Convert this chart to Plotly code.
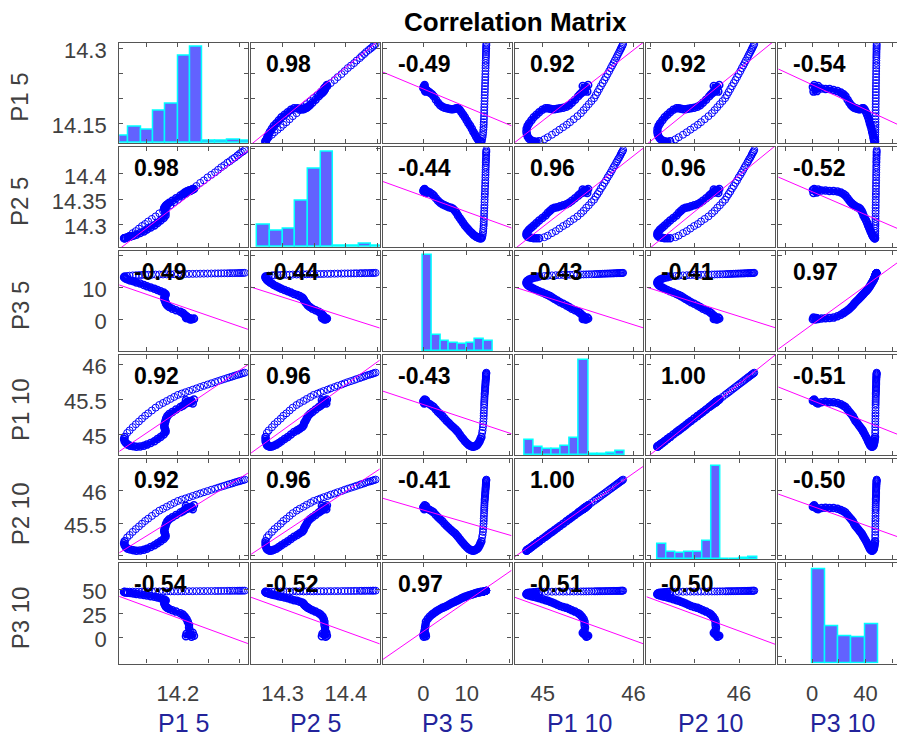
import numpy as np
import plotly.graph_objects as go

# ---------------- data ----------------
VAR_NAMES = ["P1 5", "P2 5", "P3 5", "P1 10", "P2 10", "P3 10"]

# each series: 10 points of the start cluster, 33 points of the dense path, 38 points of the sparse branch
N_DENSE = 43

P1_5 = [14.222, 14.226, 14.220, 14.214, 14.224, 14.213, 14.218, 14.219, 14.218, 14.218,
        14.216, 14.214, 14.211, 14.208, 14.204, 14.197, 14.191, 14.186, 14.183, 14.181, 14.180,
        14.179, 14.178, 14.178, 14.179, 14.180, 14.180, 14.177, 14.172, 14.167, 14.162, 14.156,
        14.150, 14.145, 14.139, 14.133, 14.128, 14.123, 14.119, 14.116, 14.114, 14.113, 14.114,
        14.118, 14.122, 14.127, 14.132, 14.137, 14.142, 14.147, 14.152, 14.158, 14.164, 14.170,
        14.176, 14.182, 14.188, 14.194, 14.200, 14.206, 14.212, 14.218, 14.224, 14.230, 14.236,
        14.242, 14.248, 14.254, 14.260, 14.265, 14.270, 14.275, 14.280, 14.284, 14.288, 14.292,
        14.296, 14.299, 14.302, 14.305, 14.308]

P2_5 = [14.368, 14.370, 14.366, 14.363, 14.369, 14.362, 14.366, 14.367, 14.367, 14.366,
        14.366, 14.365, 14.363, 14.360, 14.357, 14.352, 14.347, 14.343, 14.340, 14.338, 14.336,
        14.334, 14.333, 14.331, 14.327, 14.323, 14.318, 14.313, 14.308, 14.303, 14.298, 14.294,
        14.290, 14.286, 14.283, 14.280, 14.278, 14.276, 14.275, 14.274, 14.273, 14.273, 14.273,
        14.275, 14.278, 14.283, 14.287, 14.292, 14.297, 14.301, 14.306, 14.311, 14.316, 14.322,
        14.327, 14.333, 14.338, 14.344, 14.349, 14.355, 14.360, 14.365, 14.371, 14.376, 14.382,
        14.387, 14.393, 14.398, 14.403, 14.408, 14.413, 14.417, 14.422, 14.425, 14.429, 14.432,
        14.436, 14.439, 14.442, 14.444, 14.447]

P3_5 = [0.1, 0.3, 0.0, 0.4, 0.2, 0.6, 0.5, 0.3, 0.4, 0.5,
        0.6, 1.0, 1.5, 2.0, 2.4, 2.9, 3.4, 3.9, 4.4, 4.9, 5.4,
        5.9, 6.4, 6.85, 7.3, 7.65, 8.0, 8.4, 8.8, 9.2, 9.6, 10.0,
        10.4, 10.8, 11.2, 11.55, 11.9, 12.2, 12.5, 12.75, 13.0, 13.2, 13.4,
        13.56, 13.67, 13.76, 13.81, 13.86, 13.91, 13.94, 13.96, 13.99, 14.02, 14.04,
        14.06, 14.08, 14.11, 14.13, 14.15, 14.17, 14.2, 14.22, 14.24, 14.26, 14.29,
        14.31, 14.33, 14.35, 14.37, 14.38, 14.4, 14.42, 14.43, 14.45, 14.46, 14.47,
        14.49, 14.5, 14.51, 14.53, 14.55]

P1_10 = [45.48, 45.50, 45.47, 45.45, 45.44, 45.49, 45.46, 45.46, 45.465, 45.46,
         45.46, 45.45, 45.43, 45.41, 45.39, 45.355, 45.32, 45.29, 45.26, 45.225, 45.19,
         45.16, 45.13, 45.105, 45.08, 45.055, 45.03, 44.995, 44.96, 44.93, 44.90, 44.875,
         44.85, 44.833, 44.822, 44.82, 44.825, 44.835, 44.85, 44.872, 44.9, 44.93, 44.96,
         45.018, 45.055, 45.101, 45.143, 45.183, 45.224, 45.265, 45.30, 45.341, 45.382, 45.42,
         45.449, 45.478, 45.507, 45.536, 45.565, 45.584, 45.603, 45.621, 45.64, 45.659, 45.678,
         45.696, 45.714, 45.732, 45.749, 45.764, 45.779, 45.793, 45.808, 45.819, 45.83, 45.842,
         45.853, 45.861, 45.869, 45.877, 45.885]

P2_10 = [45.756, 45.777, 45.746, 45.725, 45.715, 45.766, 45.735, 45.735, 45.74, 45.735,
         45.735, 45.725, 45.705, 45.684, 45.664, 45.628, 45.592, 45.561, 45.53, 45.494, 45.458,
         45.427, 45.397, 45.371, 45.345, 45.32, 45.294, 45.258, 45.222, 45.191, 45.16, 45.135,
         45.109, 45.092, 45.08, 45.078, 45.083, 45.094, 45.109, 45.132, 45.16, 45.191, 45.222,
         45.282, 45.319, 45.367, 45.41, 45.451, 45.493, 45.535, 45.571, 45.613, 45.655, 45.694,
         45.724, 45.754, 45.784, 45.814, 45.843, 45.863, 45.882, 45.901, 45.92, 45.94, 45.959,
         45.978, 45.996, 46.015, 46.032, 46.048, 46.063, 46.077, 46.093, 46.104, 46.115, 46.128,
         46.139, 46.147, 46.156, 46.164, 46.172]

P3_10 = [0.5, 1.5, 2.5, 3.5, 4.5, 1.0, 3.0, 7.0, 10.0, 13.0,
         16, 19, 21.5, 23.5, 25, 26.6, 28, 29.3, 30.5, 31.5, 32.5,
         33.8, 35, 36, 37, 37.8, 38.5, 39.5, 40.5, 41.3, 42, 42.7,
         43.3, 43.9, 44.5, 45, 45.5, 45.9, 46.2, 46.5, 46.8, 47.0, 47.2,
         47.3, 47.34, 47.35, 47.4, 47.43, 47.44, 47.49, 47.52, 47.53, 47.58, 47.6,
         47.64, 47.65, 47.7, 47.73, 47.74, 47.79, 47.81, 47.85, 47.86, 47.9, 47.94,
         47.95, 48.0, 48.02, 48.06, 48.07, 48.12, 48.14, 48.18, 48.2, 48.23, 48.27,
         48.29, 48.33, 48.35, 48.39, 48.41]

# correlation coefficients printed in the panels
CORR = [[1.00, 0.98, -0.49, 0.92, 0.92, -0.54],
        [0.98, 1.00, -0.44, 0.96, 0.96, -0.52],
        [-0.49, -0.44, 1.00, -0.43, -0.41, 0.97],
        [0.92, 0.96, -0.43, 1.00, 1.00, -0.51],
        [0.92, 0.96, -0.41, 1.00, 1.00, -0.50],
        [-0.54, -0.52, 0.97, -0.51, -0.50, 1.00]]

# histograms on the diagonal (bin edges and counts)
HIST_EDGES_P1_5 = [14.10, 14.12, 14.14, 14.16, 14.18, 14.20, 14.22, 14.24, 14.26, 14.28, 14.30, 14.32]
HIST_COUNTS_P1_5 = [21, 48, 40, 98, 118, 265, 290, 7, 7, 10, 7]
HIST_EDGES_P2_5 = [14.26, 14.28, 14.30, 14.32, 14.34, 14.36, 14.38, 14.40, 14.42, 14.44, 14.46]
HIST_COUNTS_P2_5 = [68, 50, 56, 141, 236, 288, 3, 3, 11, 3]
HIST_EDGES_P3_5 = [0, 2, 4, 6, 8, 10, 12, 14, 16]
HIST_COUNTS_P3_5 = [290, 48, 30, 26, 22, 26, 38, 30]
HIST_EDGES_P1_10 = [44.8, 44.9, 45.0, 45.1, 45.2, 45.3, 45.4, 45.5, 45.6, 45.7, 45.8, 45.9]
HIST_COUNTS_P1_10 = [47, 25, 20, 20, 28, 53, 288, 4, 4, 8, 12]
HIST_EDGES_P2_10 = [45.077, 45.18, 45.282, 45.385, 45.487, 45.59, 45.692, 45.795, 45.897, 46.0, 46.102, 46.205]
HIST_COUNTS_P2_10 = [45, 23, 19, 23, 23, 55, 283, 2, 2, 4, 7]
HIST_EDGES_P3_10 = [0, 9.88, 19.76, 29.64, 39.52, 49.4]
HIST_COUNTS_P3_10 = [284, 112, 84, 80, 119]

# tick values / labels
ROW_TICKVALS = [[14.15, 14.2, 14.25, 14.3], [14.3, 14.35, 14.4], [0, 10, 20],
                [45, 45.5, 46], [45, 45.5, 46], [0, 25, 50]]
ROW_TICKTEXT = [["14.15", "", "", "14.3"], ["14.3", "14.35", "14.4"], ["0", "10", ""],
                ["45", "45.5", "46"], ["", "45.5", "46"], ["0", "25", "50"]]
COL_TICKVALS = [[14.15, 14.2, 14.25, 14.3], [14.3, 14.35, 14.4, 14.45], [0, 10, 20],
                [45, 45.5, 46], [45, 45.5, 46], [-20, 0, 20, 40, 60]]
COL_TICKTEXT = [["", "14.2", "", ""], ["14.3", "", "14.4", ""], ["0", "10", ""],
                ["45", "", "46"], ["", "", "46"], ["", "0", "", "40", ""]]

# ---------------- layout / style ----------------
SERIES = [P1_5, P2_5, P3_5, P1_10, P2_10, P3_10]
HISTS = [(HIST_EDGES_P1_5, HIST_COUNTS_P1_5), (HIST_EDGES_P2_5, HIST_COUNTS_P2_5),
         (HIST_EDGES_P3_5, HIST_COUNTS_P3_5), (HIST_EDGES_P1_10, HIST_COUNTS_P1_10),
         (HIST_EDGES_P2_10, HIST_COUNTS_P2_10), (HIST_EDGES_P3_10, HIST_COUNTS_P3_10)]

X_RANGES = [[14.1052, 14.3132], [14.25, 14.4535], [-9.35, 20.37],
            [44.690, 46.108], [44.955, 46.408], [-25.47, 63.67]]
Y_RANGES = [[14.1104, 14.3105], [14.2553, 14.4533], [-9.88, 21.39],
            [44.696, 46.139], [44.943, 46.488], [-27.4, 77.0]]

W, H = 899, 738
FONT = "Liberation Sans, Arial, sans-serif"
AXC = "#555555"
BLUE = "#0000FF"
MAGENTA = "#FF00FF"
COL_LEFT = [119.5 + 132.1 * j for j in range(6)]
COL_W = 129.0
ROW_TOP = [38.0 + 104.8 * i for i in range(6)]
ROW_H = 101.0
HIST_TOP = 303.0


def fx(px):
    return px / W


def fy(py):
    return 1 - py / H


# statistics from the histograms -> least-squares lines
means, sds = [], []
for edges, counts in HISTS:
    e = np.array(edges, float)
    c = np.array(counts, float)
    m = (e[:-1] + e[1:]) / 2
    mu = (c * m).sum() / c.sum()
    means.append(mu)
    sds.append(np.sqrt((c * (m - mu) ** 2).sum() / c.sum()))

fig = go.Figure()
layout = {}
annotations = []

for i in range(6):
    for j in range(6):
        k = i * 6 + j + 1
        sfx = "" if k == 1 else str(k)
        left = COL_LEFT[j]
        right = min(left + COL_W, W)
        top = ROW_TOP[i]
        bot = top + ROW_H
        common = dict(showline=True, linecolor=AXC, linewidth=1.2, ticks="inside", ticklen=4,
                      tickwidth=1, tickcolor=AXC, showgrid=False, zeroline=False,
                      tickfont=dict(family=FONT, size=22, color="#404040"), fixedrange=True)
        xa = dict(common, domain=[fx(left), fx(right)], range=X_RANGES[j], anchor="y" + sfx,
                  tickvals=COL_TICKVALS[j], ticktext=COL_TICKTEXT[j], mirror="ticks",
                  showticklabels=(i == 5), ticklabelstandoff=10)
        if i == j and j != 0:
            ytv, ytt = COL_TICKVALS[j], None
        else:
            ytv, ytt = ROW_TICKVALS[i], ROW_TICKTEXT[i]
        ya = dict(common, domain=[fy(bot), fy(top)], range=Y_RANGES[i], anchor="x" + sfx,
                  tickvals=ytv, mirror=(False if j == 5 else "ticks"),
                  showticklabels=(j == 0), ticklabelstandoff=7, ticklabelshift=2)
        if ytt is not None:
            ya["ticktext"] = ytt
        layout["xaxis" + sfx] = xa
        layout["yaxis" + sfx] = ya

        if i == j:
            # empty trace so that the diagonal frame (with its ticks) is drawn
            fig.add_trace(go.Scatter(x=[None], y=[None], mode="markers",
                                     xaxis="x" + sfx, yaxis="y" + sfx, hoverinfo="skip"))
            hk = 37 + i
            layout["yaxis%d" % hk] = dict(overlaying="y" + sfx, anchor="x" + sfx,
                                          domain=[fy(bot), fy(top)],
                                          range=[0, HIST_TOP], visible=False, fixedrange=True,
                                          showgrid=False, zeroline=False)
            edges, counts = HISTS[i]
            e = np.array(edges, float)
            fig.add_trace(go.Bar(x=(e[:-1] + e[1:]) / 2, y=counts, width=np.diff(e),
                                 marker=dict(color="rgb(98,98,255)",
                                             line=dict(color="#00FFFF", width=1.5)),
                                 xaxis="x" + sfx, yaxis="y%d" % hk, hoverinfo="skip"))
            continue

        X = SERIES[j]
        Y = SERIES[i]
        fig.add_trace(go.Scatter(x=X[:N_DENSE], y=Y[:N_DENSE], mode="lines+markers",
                                 line=dict(color=BLUE, width=5, shape="spline", smoothing=0.6),
                                 marker=dict(symbol="circle-open", size=7, color=BLUE,
                                             line=dict(width=1.5)),
                                 xaxis="x" + sfx, yaxis="y" + sfx, hoverinfo="skip"))
        fig.add_trace(go.Scatter(x=X[N_DENSE:], y=Y[N_DENSE:], mode="markers",
                                 marker=dict(symbol="circle-open", size=7, color=BLUE,
                                             line=dict(width=1)),
                                 xaxis="x" + sfx, yaxis="y" + sfx, hoverinfo="skip"))
        slope = CORR[i][j] * sds[i] / sds[j]
        xs = np.array(X_RANGES[j])
        fig.add_trace(go.Scatter(x=xs, y=means[i] + slope * (xs - means[j]), mode="lines",
                                 line=dict(color=MAGENTA, width=1),
                                 xaxis="x" + sfx, yaxis="y" + sfx, hoverinfo="skip"))
        annotations.append(dict(x=fx(left + 13), y=fy(top + 21), xref="paper", yref="paper",
                                text="%.2f" % CORR[i][j], showarrow=False, xanchor="left",
                                yanchor="middle",
                                font=dict(family=FONT, size=23, color="black", weight="bold")))

# axis titles
for i in range(6):
    annotations.append(dict(x=fx(20), y=fy(ROW_TOP[i] + ROW_H / 2 + 4), xref="paper", yref="paper",
                            text=VAR_NAMES[i], showarrow=False, textangle=-90,
                            xanchor="center", yanchor="middle",
                            font=dict(family=FONT, size=24, color="#404040")))
for j in range(6):
    annotations.append(dict(x=fx(COL_LEFT[j] + COL_W / 2), y=fy(723), xref="paper", yref="paper",
                            text=VAR_NAMES[j], showarrow=False, xanchor="center", yanchor="middle",
                            font=dict(family=FONT, size=25, color="#23239b")))
annotations.append(dict(x=fx(516.5), y=fy(17), xref="paper", yref="paper",
                        text="Correlation Matrix", showarrow=False, xanchor="center",
                        yanchor="middle",
                        font=dict(family=FONT, size=26, color="black", weight="bold")))

fig.update_layout(**layout)
fig.update_layout(width=W, height=H, margin=dict(l=0, r=0, t=0, b=0),
                  paper_bgcolor="white", plot_bgcolor="white", showlegend=False,
                  bargap=0, annotations=annotations)

fig.write_html("out.html", config={"displayModeBar": False})
